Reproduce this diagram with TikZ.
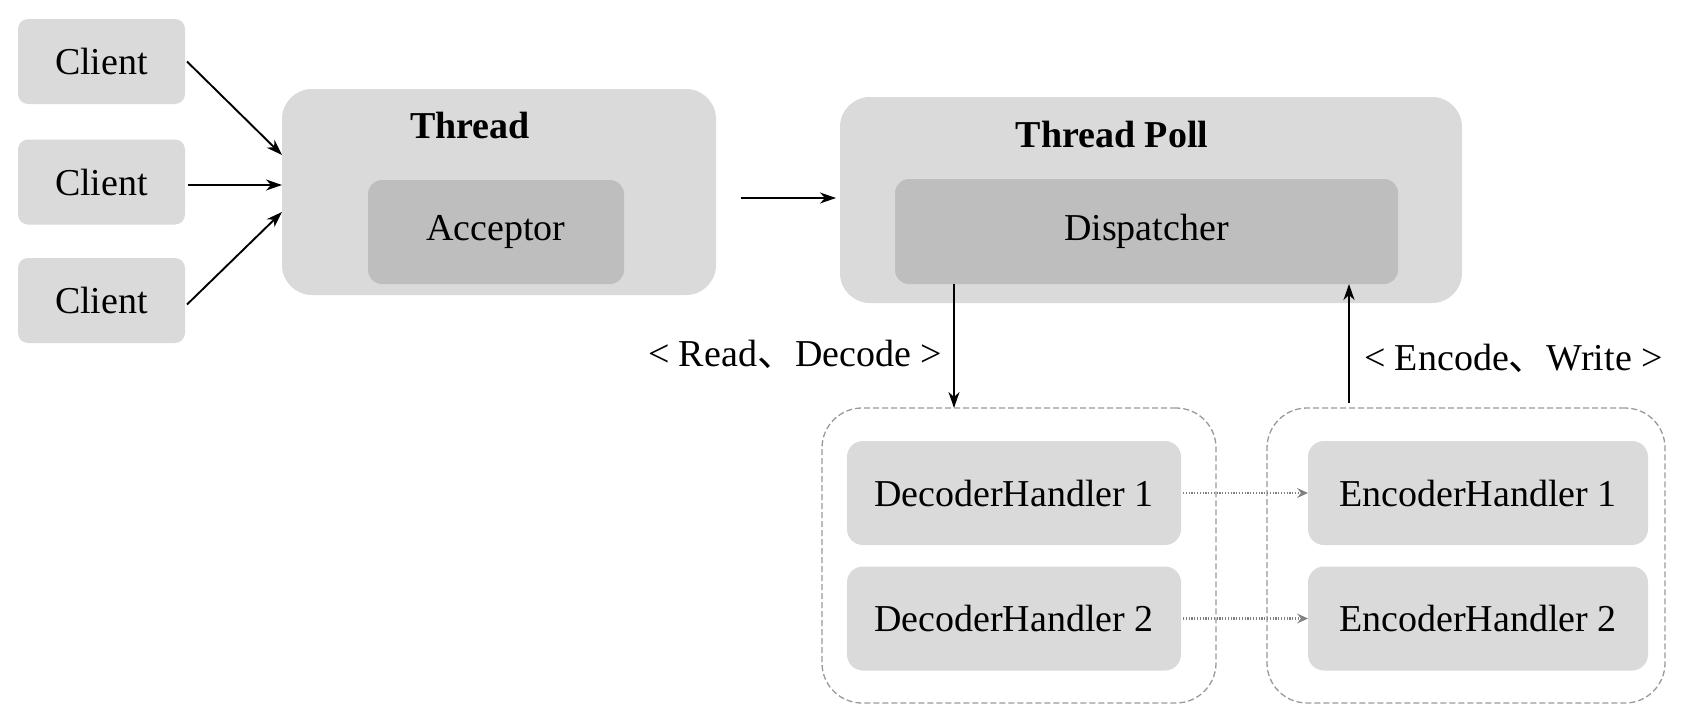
\documentclass[tikz,border=0pt]{standalone}
\usepackage{fontspec}
\setmainfont{Liberation Serif}
\newfontfamily\cjk{Noto Sans CJK SC}
\usetikzlibrary{arrows.meta,positioning,calc}
\definecolor{lightbox}{HTML}{DADADA}
\definecolor{darkbox}{HTML}{BEBEBE}
\definecolor{dashgray}{HTML}{9A9A9A}
\begin{document}
\begin{tikzpicture}[x=1pt,y=-1pt,
  every node/.style={font=\fontsize{38}{44}\selectfont, inner sep=0pt, outer sep=0pt},
  lbox/.style={fill=lightbox, rounded corners=#1},
  lbox/.default=10pt,
  dbox/.style={fill=darkbox, rounded corners=14pt},
  grp/.style={draw=dashgray, dashed, dash pattern=on 6pt off 3pt, line width=1.3pt, rounded corners=40pt},
  arr/.style={line width=1.9pt, -{Stealth[length=16pt,width=11pt,inset=5pt]}},
  darr/.style={draw=gray, line width=2.2pt, dash pattern=on 1.2pt off 1.6pt, -{Stealth[length=11pt,width=10pt,inset=4pt,line width=0pt]}},
  ttl/.style={font=\fontsize{38}{44}\selectfont\bfseries}
]
\useasboundingbox (0,0) rectangle (1684,720);
\fill[white] (0,0) rectangle (1684,720);

% clients
\node[lbox, minimum width=167pt, minimum height=85pt] (c1) at (101.5,61.5) {\raisebox{-3pt}{Client}};
\node[lbox, minimum width=167pt, minimum height=85pt] (c2) at (101.5,182) {\raisebox{-3pt}{Client}};
\node[lbox, minimum width=167pt, minimum height=85pt] (c3) at (101.5,300.5) {\raisebox{-3pt}{Client}};

% thread
\node[lbox=30pt, minimum width=434pt, minimum height=206pt] (thread) at (499,192) {};
\node[ttl] (threadt) at (470,126) {Thread};
\node[dbox, minimum width=256pt, minimum height=104pt] (acc) at (496,232) {Acceptor};

% thread poll
\node[lbox=30pt, minimum width=622pt, minimum height=206pt] (pool) at (1151,200) {};
\node[ttl] (poolt) at (1112,135) {Thread Poll};
\node[dbox, minimum width=503pt, minimum height=105pt] (disp) at (1146.5,231.5) {Dispatcher};

% groups
\node[grp, minimum width=394pt, minimum height=295pt] (dg) at (1019,555.5) {};
\node[grp, minimum width=398pt, minimum height=295pt] (eg) at (1466,555.5) {};

\node[lbox=16pt, minimum width=334pt, minimum height=104pt] (dh1) at (1014,493) {DecoderHandler 1};
\node[lbox=16pt, minimum width=334pt, minimum height=104pt] (dh2) at (1014,618.5) {DecoderHandler 2};
\node[lbox=16pt, minimum width=340pt, minimum height=104pt] (eh1) at (1478,493) {EncoderHandler 1};
\node[lbox=16pt, minimum width=340pt, minimum height=104pt] (eh2) at (1478,618.5) {EncoderHandler 2};

% labels
\node[anchor=east] (rl) at (942,354) {< Read{\cjk 、}Decode >};
\node[anchor=west] (wl) at (1364,358) {< Encode{\cjk 、}Write >};

% connectors
\draw[arr] ([shift={(2pt,0)}]c1.east) -- ([yshift=37pt]thread.west);
\draw[arr] ([shift={(3pt,-3pt)}]c2.east) coordinate (ca) -- (thread.west |- ca);
\draw[arr] ([shift={(2pt,-4pt)}]c3.east) -- ([yshift=-20pt]thread.west);
\draw[arr, shorten <=25pt, shorten >=4pt] (thread.east |- 0,198) coordinate (ta) -- (pool.west |- ta);
\draw[arr] (disp.south -| 954,0) coordinate (da) -- (dg.north -| da);
\draw[arr] (eg.north -| 1349,0) ++(0,-5) coordinate (ua) -- (disp.south -| ua);
\draw[darr] ([xshift=2pt]dh1.east) -- (eh1.west);
\draw[darr] ([xshift=2pt]dh2.east) -- (eh2.west);
\end{tikzpicture}
\end{document}
